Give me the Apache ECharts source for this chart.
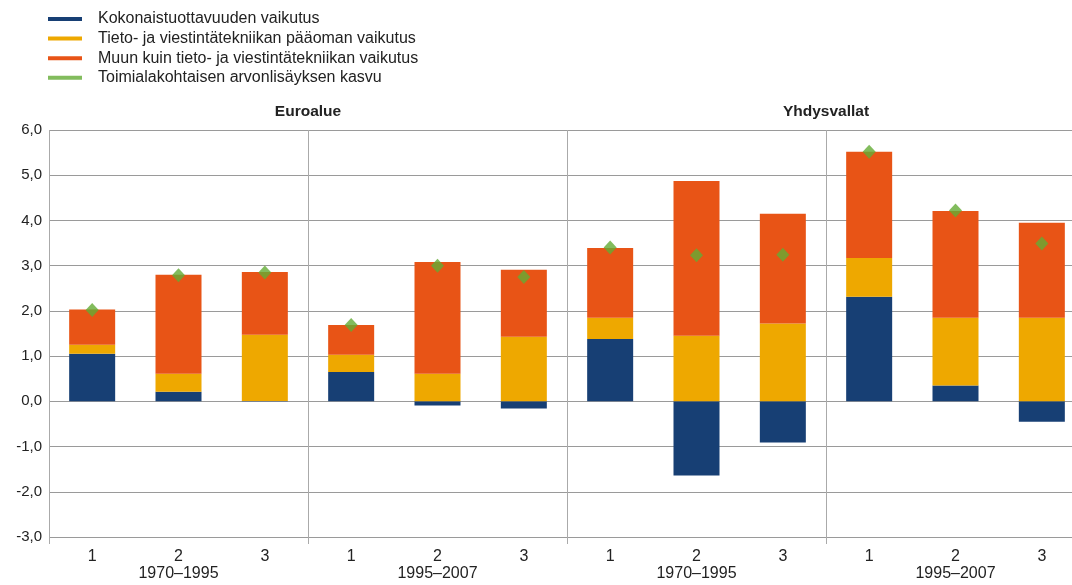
<!DOCTYPE html>
<html>
<head>
<meta charset="utf-8">
<script src="https://cdn.jsdelivr.net/npm/echarts@6/dist/echarts.min.js"></script>
<style>html,body{margin:0;padding:0;background:#fff}#c{width:1072px;height:585px}</style>
</head>
<body>
<div id="c"></div>
<script>
const categories = ['1','2','3','1','2','3','1','2','3','1','2','3'];
const periods = ['1970–1995','1995–2007','1970–1995','1995–2007'];
const regions = ['Euroalue','Yhdysvallat'];
const seriesNames = ['Kokonaistuottavuuden vaikutus','Tieto- ja viestintätekniikan pääoman vaikutus','Muun kuin tieto- ja viestintätekniikan vaikutus','Toimialakohtaisen arvonlisäyksen kasvu'];
const tfp   = [1.05, 0.21, 0.01, 0.65, -0.09, -0.16, 1.38, -1.64, -0.91, 2.31, 0.35, -0.45];
const ict   = [0.20, 0.40, 1.46, 0.38, 0.61, 1.43, 0.47, 1.45, 1.72, 0.86, 1.50, 1.85];
const other = [0.78, 2.19, 1.39, 0.66, 2.47, 1.48, 1.54, 3.42, 2.43, 2.35, 2.36, 2.10];
const total = [2.02, 2.79, 2.85, 1.69, 3.00, 2.75, 3.40, 3.23, 3.24, 5.52, 4.22, 3.49];
const yTicks = {min: -3, max: 6, interval: 1};

const colors = ['#173f74', '#eea800', '#e85416', '#63ab35'];
const font = 'Liberation Sans, Arial, sans-serif';
const chart = echarts.init(document.getElementById('c'));
chart.setOption({
  animation: false,
  textStyle: {fontFamily: font},
  title: [
    {text: regions[0], left: 308, top: 104, padding: 0, textAlign: 'center', textStyle: {fontSize: 15.5, fontWeight: 'bold', color: '#222', fontFamily: font}},
    {text: regions[1], left: 826, top: 104, padding: 0, textAlign: 'center', textStyle: {fontSize: 15.5, fontWeight: 'bold', color: '#222', fontFamily: font}}
  ],
  legend: {
    orient: 'vertical', left: 48, top: 11, itemGap: 3.6, padding: 0,
    itemWidth: 34, itemHeight: 4, icon: 'rect',
    textStyle: {fontSize: 16, color: '#222', padding: [0, 0, 0, 11], fontFamily: font},
    data: seriesNames.map((n, i) => ({name: n, itemStyle: {color: colors[i]}}))
  },
  grid: {left: 49, right: -13, top: 130, bottom: 48, containLabel: false, outerBoundsMode: 'none'},
  xAxis: [
    {type: 'category', data: categories, position: 'bottom',
     axisLine: {show: false}, axisTick: {show: false}, splitLine: {show: false},
     axisLabel: {margin: 12, fontSize: 16, color: '#222', fontFamily: font}},
    {type: 'category', data: periods, position: 'bottom',
     axisLine: {show: false},
     axisTick: {show: true, length: 7, lineStyle: {color: '#aaa', width: 1}},
     splitLine: {show: true, lineStyle: {color: '#aaa', width: 1}},
     axisLabel: {margin: 29, fontSize: 16, color: '#222', fontFamily: font}}
  ],
  yAxis: {
    type: 'value', min: yTicks.min, max: yTicks.max, interval: yTicks.interval,
    axisLine: {show: false}, axisTick: {show: false},
    splitLine: {lineStyle: {color: '#9a9a9a', width: 1}},
    axisLabel: {fontSize: 15, color: '#222', margin: 7, fontFamily: font,
      formatter: v => v.toFixed(1).replace('.', ',')}
  },
  series: [
    {name: seriesNames[0], type: 'bar', stack: 's', data: tfp, barWidth: 46, itemStyle: {color: colors[0]}},
    {name: seriesNames[1], type: 'bar', stack: 's', data: ict, barWidth: 46, itemStyle: {color: colors[1]}},
    {name: seriesNames[2], type: 'bar', stack: 's', data: other, barWidth: 46, itemStyle: {color: colors[2]}},
    {name: seriesNames[3], type: 'scatter', data: total, symbol: 'diamond', symbolSize: [13, 14], itemStyle: {color: colors[3]}, z: 5}
  ]
});
</script>
</body>
</html>
